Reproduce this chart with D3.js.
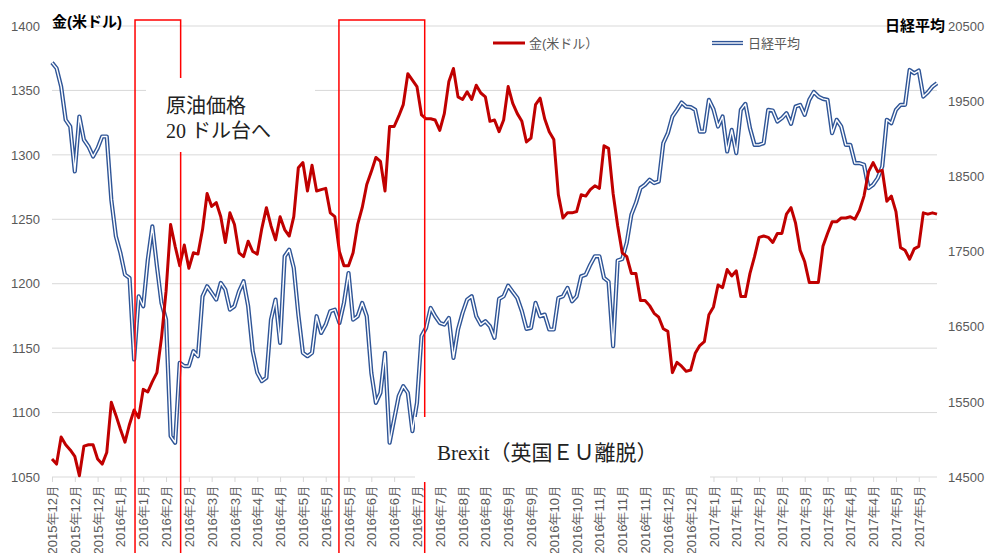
<!DOCTYPE html>
<html lang="ja">
<head>
<meta charset="UTF-8">
<script src="https://cdn.jsdelivr.net/npm/d3@7"></script>
<title>金と日経平均</title>
<style>
	body { margin: 0; background: #fff; }
	svg { display: block; font-family: "Liberation Sans", "Noto Sans CJK JP", sans-serif; }
	.grid line { stroke: #d9d9d9; stroke-width: 1; }
	.tick-label { font-size: 13px; fill: #595959; }
	.note { font-family: "Liberation Serif", "Noto Sans CJK JP", serif; fill: #222; }
</style>
</head>
<body>
<div id="chart"></div>
<script>
// x-axis labels, one every 5 points (each point = about 2 trading days)
const tickLabels = [
	'2015年12月', '2015年12月', '2015年12月', '2016年1月', '2016年1月', '2016年2月', '2016年2月',
	'2016年3月', '2016年3月', '2016年4月', '2016年4月', '2016年5月', '2016年5月', '2016年5月',
	'2016年6月', '2016年6月', '2016年7月', '2016年7月', '2016年8月', '2016年8月', '2016年9月',
	'2016年9月', '2016年10月', '2016年10月', '2016年11月', '2016年11月', '2016年11月', '2016年12月',
	'2016年12月', '2017年1月', '2017年1月', '2017年2月', '2017年2月', '2017年3月', '2017年3月',
	'2017年4月', '2017年4月', '2017年5月', '2017年5月'
];
const tickEvery = 5;

// gold, USD (left axis)
const gold = [
	1064, 1060, 1081, 1075, 1071, 1066, 1051, 1074, 1075, 1075,
	1064, 1060, 1069, 1108, 1098, 1087, 1077, 1091, 1102, 1096,
	1118, 1116, 1124, 1131, 1158, 1194, 1246, 1229, 1214, 1230,
	1212, 1224, 1223, 1242, 1270, 1260, 1263, 1252, 1232, 1255,
	1246, 1224, 1221, 1233, 1225, 1223, 1243, 1259, 1245, 1234,
	1252, 1242, 1237, 1252, 1290, 1294, 1272, 1292, 1272, 1273,
	1274, 1255, 1252, 1225, 1214, 1214, 1224, 1246, 1259, 1277,
	1287, 1298, 1295, 1272, 1322, 1322, 1330, 1339, 1363, 1358,
	1353, 1331, 1328, 1328, 1327, 1319, 1332, 1357, 1367, 1345,
	1343, 1349, 1343, 1354, 1348, 1345, 1326, 1327, 1318, 1327,
	1353, 1340, 1332, 1326, 1310, 1313, 1339, 1344, 1328, 1318,
	1312, 1269, 1251, 1255, 1255, 1256, 1269, 1268, 1273, 1276,
	1274, 1307, 1305, 1270, 1245, 1224, 1221, 1208, 1208, 1187,
	1187, 1183, 1177, 1174, 1165, 1163, 1131, 1139, 1136, 1132,
	1133, 1146, 1152, 1155, 1176, 1182, 1199, 1197, 1211, 1206,
	1210, 1190, 1190, 1208, 1221, 1236, 1237, 1236, 1232, 1239,
	1239, 1254, 1259, 1247, 1226, 1217, 1201, 1201, 1201, 1229,
	1239, 1248, 1248, 1251, 1251, 1252, 1250, 1257, 1268, 1287,
	1294, 1287, 1288, 1264, 1268, 1256, 1228, 1226, 1219, 1227,
	1229, 1255, 1254, 1255, 1254
];

// Nikkei 225 (right axis)
const nikkei = [
	20013, 19938, 19694, 19251, 19163, 18565, 19296, 18986, 18897, 18764,
	18875, 19030, 19030, 18189, 17702, 17480, 17192, 17148, 16063, 16904,
	16772, 17391, 17834, 17303, 16816, 16594, 15045, 14956, 16019, 15975,
	15975, 16174, 16107, 16904, 17037, 16949, 16860, 17082, 16993, 16727,
	16772, 16971, 17104, 16772, 16174, 15886, 15775, 15820, 16594, 16860,
	16285, 17436, 17524, 17281, 16661, 16152, 16107, 16152, 16639, 16417,
	16528, 16705, 16727, 16550, 16816, 17214, 16594, 16639, 16816, 16639,
	15886, 15487, 15620, 16152, 14956, 15266, 15576, 15709, 15620, 15111,
	15487, 16374, 16484, 16749, 16639, 16550, 16528, 16617, 16085, 16462,
	16683, 16860, 16904, 16639, 16528, 16572, 16506, 16351, 16869, 16904,
	17046, 16962, 16882, 16705, 16471, 16484, 16816, 16639, 16661, 16462,
	16462, 16882, 16904, 17015, 16838, 16904, 17170, 17192, 17325, 17436,
	17436, 17148, 17100, 16240, 17380, 17400, 17620, 17989, 18144, 18344,
	18388, 18454, 18410, 18432, 18941, 19074, 19296, 19384, 19482, 19428,
	19420, 19384, 19096, 19096, 19517, 19393, 19163, 19296, 18831, 19118,
	18809, 19384, 19464, 19141, 18919, 18919, 18941, 19384, 19375, 19229,
	19274, 19340, 19198, 19428, 19451, 19318, 19517, 19623, 19561, 19530,
	19517, 19074, 19252, 19163, 18919, 18919, 18676, 18676, 18654, 18344,
	18388, 18476, 18631, 19252, 19207, 19384, 19451, 19451, 19915, 19871,
	19907, 19561, 19619, 19694, 19738
];

const goldTicks = [1050, 1100, 1150, 1200, 1250, 1300, 1350, 1400];
const nikkeiTicks = [14500, 15500, 16500, 17500, 18500, 19500, 20500];

// highlighted periods, as point indexes
const periods = [[18.2, 28.2], [62.9, 81.7]];

const width = 987;
const height = 553;
const m = { left: 52, right: 937, top: 26, bottom: 477 };
const red = '#c00000';
const blue = '#2f5597';

const svg = d3.select('#chart').append('svg')
	.attr('width', width)
	.attr('height', height);

const x = d3.scaleLinear().domain([0, gold.length - 1]).range([m.left, m.right]);
const yGold = d3.scaleLinear().domain([1050, 1400]).range([m.bottom, m.top]);
const yNikkei = d3.scaleLinear().domain([14500, 20500]).range([m.bottom, m.top]);

//gridlines (left axis)
svg.append('g').attr('class', 'grid')
	.selectAll('line').data(goldTicks).enter().append('line')
	.attr('x1', m.left).attr('x2', m.right)
	.attr('y1', d => yGold(d)).attr('y2', d => yGold(d));

//left axis
const axisL = svg.append('g').attr('transform', `translate(${m.left - 12},0)`)
	.call(d3.axisLeft(yGold).tickValues(goldTicks).tickSize(0).tickPadding(0).tickFormat(d3.format('d')));
axisL.select('.domain').remove();
axisL.selectAll('text').attr('class', 'tick-label').attr('font-family', null).attr('font-size', null);

//right axis
const axisR = svg.append('g').attr('transform', `translate(${m.right + 11},0)`)
	.call(d3.axisRight(yNikkei).tickValues(nikkeiTicks).tickSize(0).tickPadding(0).tickFormat(d3.format('d')));
axisR.select('.domain').remove();
axisR.selectAll('text').attr('class', 'tick-label').attr('font-family', null).attr('font-size', null);

//x axis, ticks + rotated labels
const xTicks = tickLabels.map((d, i) => i * tickEvery);
const axisX = svg.append('g').attr('transform', `translate(0,${m.bottom})`)
	.call(d3.axisBottom(x).tickValues(xTicks).tickSize(5).tickFormat((d, i) => tickLabels[i]));
axisX.select('.domain').remove();
axisX.selectAll('line').attr('stroke', '#d9d9d9');
axisX.selectAll('text')
	.attr('class', 'tick-label')
	.attr('font-family', null).attr('font-size', null)
	.attr('transform', 'rotate(-90)')
	.attr('text-anchor', 'end')
	.attr('x', -8).attr('y', 0).attr('dy', '0.35em');

//lines
const goldLine = d3.line().x((d, i) => x(i)).y(d => yGold(d));
const nikkeiLine = d3.line().x((d, i) => x(i)).y(d => yNikkei(d));

svg.append('path').datum(nikkei)
	.attr('d', nikkeiLine).attr('fill', 'none')
	.attr('stroke', blue).attr('stroke-width', 4.2).attr('stroke-linejoin', 'round');
svg.append('path').datum(nikkei)
	.attr('d', nikkeiLine).attr('fill', 'none')
	.attr('stroke', '#fff').attr('stroke-width', 1.4).attr('stroke-linejoin', 'round');
svg.append('path').datum(gold)
	.attr('d', goldLine).attr('fill', 'none')
	.attr('stroke', red).attr('stroke-width', 3).attr('stroke-linejoin', 'round');

//red frames
svg.selectAll('.period').data(periods).enter().append('rect')
	.attr('class', 'period')
	.attr('x', d => x(d[0])).attr('y', 20)
	.attr('width', d => x(d[1]) - x(d[0])).attr('height', 560)
	.attr('fill', 'none').attr('stroke', '#ff0000').attr('stroke-width', 1.5);

//text boxes
svg.append('rect').attr('x', 146).attr('y', 78).attr('width', 169).attr('height', 74).attr('fill', '#fff');
svg.append('text').attr('class', 'note').attr('x', 166).attr('y', 113).attr('font-size', 20).text('原油価格');
svg.append('text').attr('class', 'note').attr('x', 166).attr('y', 138).attr('font-size', 20).text('20 ドル台へ');

svg.append('rect').attr('x', 415).attr('y', 417).attr('width', 295).attr('height', 65).attr('fill', '#fff');
svg.append('text').attr('class', 'note').attr('x', 437).attr('y', 460).attr('font-size', 21).text('Brexit（英国ＥＵ離脱）');

//axis titles
svg.append('text').attr('x', 52).attr('y', 27).attr('font-size', 15).attr('font-weight', 'bold')
	.attr('fill', '#000').text('金(米ドル)');
svg.append('text').attr('x', 945).attr('y', 31).attr('font-size', 15).attr('font-weight', 'bold')
	.attr('fill', '#000').attr('text-anchor', 'end').text('日経平均');

//legend
const legend = svg.append('g').attr('transform', 'translate(0,43)');
legend.append('line').attr('x1', 493).attr('x2', 525).attr('stroke', red).attr('stroke-width', 3);
legend.append('text').attr('x', 529).attr('dy', '0.35em').attr('class', 'tick-label').text('金(米ドル）');
legend.append('line').attr('x1', 712).attr('x2', 743).attr('stroke', blue).attr('stroke-width', 4.2);
legend.append('line').attr('x1', 712).attr('x2', 743).attr('stroke', '#fff').attr('stroke-width', 1.4);
legend.append('text').attr('x', 748).attr('dy', '0.35em').attr('class', 'tick-label').text('日経平均');
</script>
</body>
</html>
